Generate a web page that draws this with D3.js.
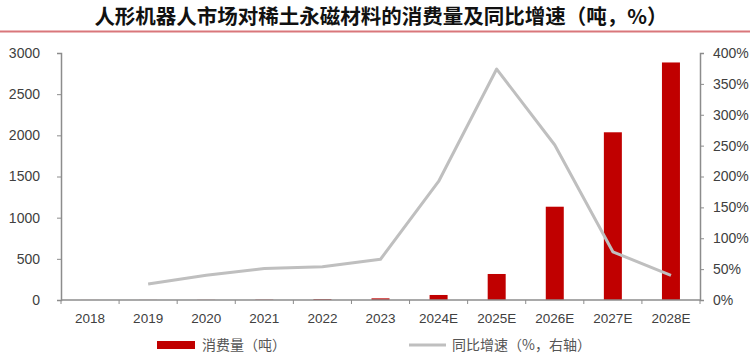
<!DOCTYPE html>
<html><head><meta charset="utf-8">
<script src="https://cdn.jsdelivr.net/npm/d3@7"></script>
<style>body{margin:0;background:#fff}svg{display:block}</style>
</head><body>
<svg id="c" width="750" height="358"></svg>
<script>
const categories = ["2018","2019","2020","2021","2022","2023","2024E","2025E","2026E","2027E","2028E"];
const consumption = [0.5, 1, 2, 4, 10, 20, 61, 316, 1133, 2037, 2885];
const growth = [null, 26, 40, 51, 54, 66, 192, 374, 251, 78, 40];
const leftTicks = [0, 500, 1000, 1500, 2000, 2500, 3000];
const rightTicks = [0, 50, 100, 150, 200, 250, 300, 350, 400];
const title = "人形机器人市场对稀土永磁材料的消费量及同比增速（吨，%）";
const legendBar = "消费量（吨）";
const legendLine = "同比增速（%，右轴）";

const svg = d3.select("#c");
const m = {l:61, r:700, t:53, b:300};
const x = d3.scaleBand().domain(categories).range([m.l, m.r]).paddingInner(0).paddingOuter(0);
const yL = d3.scaleLinear().domain([0,3000]).range([m.b, m.t]);
const yR = d3.scaleLinear().domain([0,400]).range([m.b, m.t]);
const font = "'Liberation Sans', Arial, sans-serif";
const cjk = "'Noto Sans CJK SC', sans-serif";

// title
svg.append("text").attr("x", 381).attr("y", 24).attr("text-anchor","middle")
  .attr("font-family", cjk).attr("font-weight","bold").attr("font-size", 20.5).attr("fill","#111").text(title);
svg.append("line").attr("x1",0).attr("x2",750).attr("y1",31.5).attr("y2",31.5).attr("stroke","#d9777b").attr("stroke-width",2);

// bars
const bw = 18;
svg.append("g").selectAll("rect").data(categories).join("rect")
  .attr("x", d => x(d) + x.bandwidth()/2 - bw/2)
  .attr("y", (d,i) => yL(consumption[i]))
  .attr("width", bw)
  .attr("height", (d,i) => m.b - yL(consumption[i]))
  .attr("fill", "#c00000");

// line
const pts = categories.map((c,i)=>({c, v: growth[i]})).filter(p=>p.v!==null);
svg.append("path").datum(pts)
  .attr("d", d3.line().x(p => x(p.c)+x.bandwidth()/2).y(p => yR(p.v)))
  .attr("fill","none").attr("stroke","#bfbfbf").attr("stroke-width",3).attr("stroke-linejoin","round");

// axes
const axisColor = "#8c8c8c";
const gL = svg.append("g").attr("transform",`translate(${m.l},0)`)
  .call(d3.axisLeft(yL).tickValues(leftTicks).tickSize(4).tickPadding(17).tickFormat(d3.format("d")));
const gR = svg.append("g").attr("transform",`translate(${m.r},0)`)
  .call(d3.axisRight(yR).tickValues(rightTicks).tickSize(4).tickPadding(9).tickFormat(d => d + "%"));
const gX = svg.append("g").attr("transform",`translate(0,${m.b})`)
  .call(d3.axisBottom(x).tickSize(0).tickPadding(13));
// band boundary ticks
const bounds = categories.map(c => x(c)).concat([m.r]);
gX.selectAll(".bt").data(bounds).join("line").attr("class","bt")
  .attr("x1", d=>d).attr("x2", d=>d).attr("y1",0).attr("y2",4).attr("stroke",axisColor);

[gL,gR,gX].forEach(g => {
  g.selectAll(".domain").attr("stroke", axisColor).attr("stroke-width",1.5);
  g.selectAll(".tick line").attr("stroke", axisColor);
  g.selectAll("text").attr("font-family", font).attr("font-size", 14).attr("fill","#404040");
});
gX.select(".domain").attr("d", `M${m.l},0H${m.r}`);
gX.selectAll("text").attr("font-size", 13.5);

// legend
const ly = 345;
svg.append("rect").attr("x",157).attr("y",ly-4).attr("width",38).attr("height",8).attr("fill","#c00000");
svg.append("text").attr("x",202).attr("y",ly+5).attr("font-family",cjk).attr("font-size",14).attr("fill","#555").text(legendBar);
svg.append("line").attr("x1",409).attr("x2",446).attr("y1",ly).attr("y2",ly).attr("stroke","#bfbfbf").attr("stroke-width",3);
svg.append("text").attr("x",452).attr("y",ly+5).attr("font-family",cjk).attr("font-size",14).attr("fill","#555").text(legendLine);
</script>
</body></html>
